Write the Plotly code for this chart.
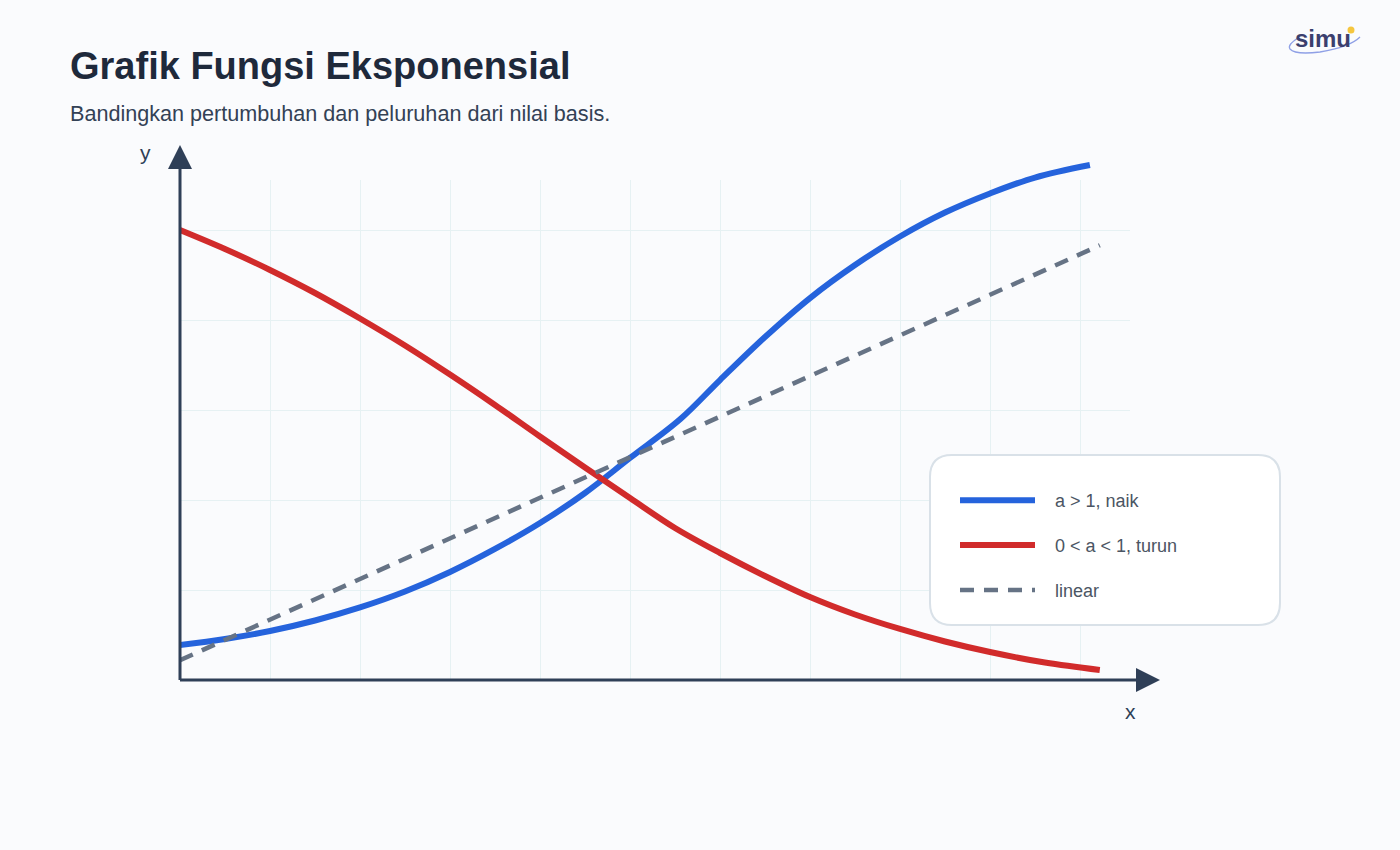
import plotly.graph_objects as go

W, H = 1400, 850
L, R, T, B = 180, 1130, 140, 680
GRID_TOP = 180

x_naik = [0, 0.5, 1, 1.5, 2, 2.5, 3, 3.5, 4, 4.5, 5, 5.56, 6, 6.5, 7, 7.5, 8, 8.5, 9, 9.5, 10.11]
y_naik = [0.389, 0.456, 0.544, 0.661, 0.806, 0.983, 1.200, 1.456, 1.744, 2.078, 2.467, 2.90, 3.333, 3.811, 4.244, 4.611, 4.928, 5.194, 5.406, 5.583, 5.722]
x_turun = [0, 0.5, 1, 1.5, 2, 2.5, 3, 3.5, 4, 4.5, 5, 5.5, 6, 6.5, 7, 7.5, 8, 8.5, 9, 9.61, 10.22]
y_turun = [5.0, 4.789, 4.556, 4.300, 4.017, 3.717, 3.394, 3.056, 2.706, 2.361, 2.022, 1.689, 1.411, 1.156, 0.922, 0.728, 0.567, 0.428, 0.311, 0.194, 0.111]
x_linear = [0, 10.22]
y_linear = [0.22, 4.83]

legend_names = ['\u00a0\u00a0\u00a0a > 1, naik', '\u00a0\u00a0\u00a00 < a < 1, turun', '\u00a0\u00a0\u00a0linear']
AXIS = '#2f3f57'


def px(x):
    return (x - L) / (R - L)


def py(y):
    return (B - y) / (B - T)


def paper_path(points, close=True):
    # points are page pixels, shapes want paper fractions
    cmds = []
    for cmd, *xy in points:
        pts = [f'{px(xy[i]):.5f},{py(xy[i + 1]):.5f}' for i in range(0, len(xy), 2)]
        cmds.append(cmd + ' ' + ' '.join(pts))
    return ' '.join(cmds) + (' Z' if close else '')


def rounded_box(x0, y0, x1, y1, r):
    return paper_path([
        ('M', x0 + r, y0), ('L', x1 - r, y0), ('Q', x1, y0, x1, y0 + r),
        ('L', x1, y1 - r), ('Q', x1, y1, x1 - r, y1), ('L', x0 + r, y1),
        ('Q', x0, y1, x0, y1 - r), ('L', x0, y0 + r), ('Q', x0, y0, x0 + r, y0),
    ])


fig = go.Figure()
# empty trace so the grid subplot gets drawn
fig.add_trace(go.Scatter(x=[None], y=[None], xaxis='x', yaxis='y', showlegend=False, hoverinfo='skip'))
fig.add_trace(go.Scatter(x=x_naik, y=y_naik, xaxis='x2', yaxis='y2', mode='lines', name=legend_names[0], legendgroup='a',
                         line=dict(color='#2563dc', width=6, shape='spline', smoothing=1), hoverinfo='skip'))
fig.add_trace(go.Scatter(x=x_turun, y=y_turun, xaxis='x2', yaxis='y2', mode='lines', name=legend_names[1], legendgroup='b',
                         line=dict(color='#d12b2b', width=6, shape='spline', smoothing=1), hoverinfo='skip'))
fig.add_trace(go.Scatter(x=x_linear, y=y_linear, xaxis='x2', yaxis='y2', mode='lines', name=legend_names[2], legendgroup='c',
                         line=dict(color='#667385', width=4.5, dash='14px,10px'), hoverinfo='skip'))

shapes = [
    # legend card
    dict(type='path', xref='paper', yref='paper', path=rounded_box(930, 455, 1280, 625, 22),
         fillcolor='white', line=dict(color='#d9e1e8', width=2)),
    # axes
    dict(type='line', xref='paper', yref='paper', x0=px(180), y0=py(680), x1=px(1140), y1=py(680), line=dict(color=AXIS, width=3)),
    dict(type='line', xref='paper', yref='paper', x0=px(180), y0=py(680), x1=px(180), y1=py(165), line=dict(color=AXIS, width=3)),
    dict(type='path', xref='paper', yref='paper', path=paper_path([('M', 180, 145), ('L', 192, 169), ('L', 168, 169)]),
         fillcolor=AXIS, line=dict(width=0)),
    dict(type='path', xref='paper', yref='paper', path=paper_path([('M', 1160, 680), ('L', 1136, 668), ('L', 1136, 692)]),
         fillcolor=AXIS, line=dict(width=0)),
    # logo swoosh and dot
    dict(type='path', xref='paper', yref='paper',
         path=paper_path([('M', 1298, 38), ('Q', 1287, 45, 1290, 49), ('Q', 1295, 55, 1320, 52), ('Q', 1350, 47, 1360, 37)], close=False),
         line=dict(color='#8fa0e6', width=1.3)),
    dict(type='circle', xref='paper', yref='paper', x0=px(1347.5), y0=py(33.5), x1=px(1354.5), y1=py(26.5),
         fillcolor='#f5c63f', line=dict(width=0)),
]

annotations = [
    dict(text='Bandingkan pertumbuhan dan peluruhan dari nilai basis.', x=px(68), y=py(113.5), font=dict(size=21.6, color='#334155'), xanchor='left'),
    dict(text='y', x=px(145), y=py(152), font=dict(size=21, color=AXIS), xanchor='center'),
    dict(text='x', x=px(1130), y=py(711), font=dict(size=21, color=AXIS), xanchor='center'),
    dict(text='<b>simu</b>', x=px(1323), y=py(38), font=dict(size=24, color='#3b3f6e'), xanchor='center'),
]
for a in annotations:
    a.update(xref='paper', yref='paper', yanchor='middle', showarrow=False)

hidden = dict(zeroline=False, showticklabels=False, ticks='', showline=False)

fig.update_layout(
    width=W, height=H,
    title=dict(text='<b>Grafik Fungsi Eksponensial</b>', x=70 / W, xanchor='left', xref='container',
               y=1 - 66 / H, yanchor='middle', yref='container', font=dict(size=38, color='#1e293b')),
    font=dict(family='Liberation Sans, Arial, sans-serif'),
    paper_bgcolor='#fafbfd', plot_bgcolor='rgba(0,0,0,0)',
    margin=dict(l=L, r=W - R, t=T, b=H - B, autoexpand=False),
    # x/y only carry the grid, x2/y2 carry the curves and run higher
    xaxis=dict(range=[0, (R - L) / 90], dtick=1, tick0=0, showgrid=True, gridcolor='#e6f1f3', gridwidth=1, anchor='y', **hidden),
    yaxis=dict(range=[0, (B - GRID_TOP) / 90], domain=[0, (B - GRID_TOP) / (B - T)], dtick=1, tick0=0,
               showgrid=True, gridcolor='#e6f1f3', gridwidth=1, anchor='x', **hidden),
    xaxis2=dict(range=[0, (R - L) / 90], showgrid=False, anchor='y2', **hidden),
    yaxis2=dict(range=[0, (B - T) / 90], domain=[0, 1], showgrid=False, anchor='x2', **hidden),
    showlegend=True,
    legend=dict(x=px(955), y=py(482), xanchor='left', yanchor='top', bgcolor='rgba(0,0,0,0)', borderwidth=0,
                itemwidth=75, tracegroupgap=18.5, font=dict(size=18, color='#4b5563'), traceorder='grouped'),
    shapes=shapes,
    annotations=annotations,
)

fig.write_html('out.html', config=dict(displayModeBar=False),
               post_script="document.body.style.margin='0';document.body.style.overflow='hidden';")
